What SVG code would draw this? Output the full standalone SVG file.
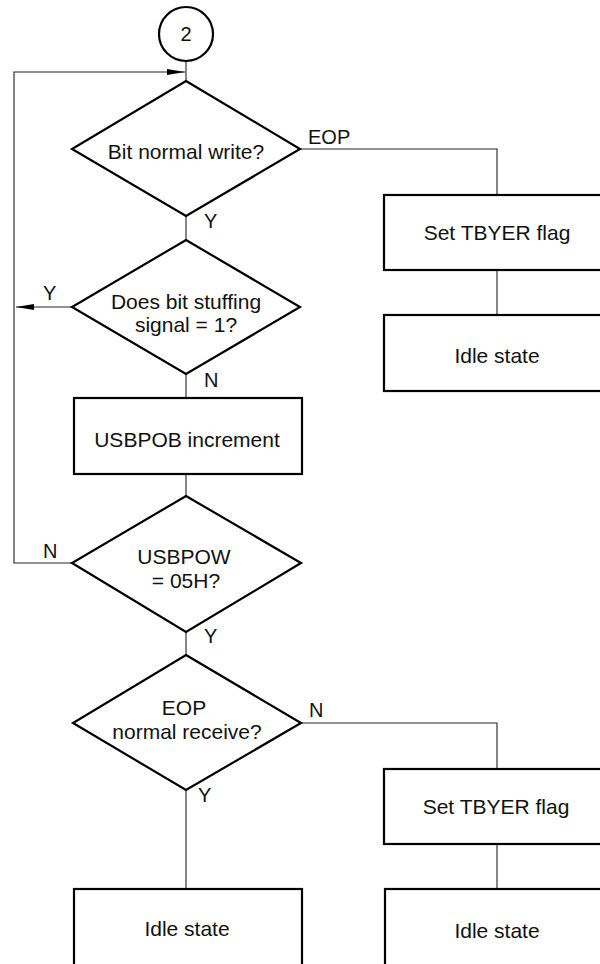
<svg xmlns="http://www.w3.org/2000/svg" width="600" height="964" viewBox="0 0 600 964">
<defs>
<style>
.shape{fill:#fff;stroke:#000;stroke-width:2.2}
.conn{fill:none;stroke:#222;stroke-width:1.1}
.t{font-family:"Liberation Sans",Arial,sans-serif;font-size:21px;fill:#111;text-anchor:middle}
.lbl{font-family:"Liberation Sans",Arial,sans-serif;font-size:20px;fill:#111}
</style>
<marker id="arr" viewBox="0 0 18 6" refX="18" refY="3" markerWidth="18" markerHeight="6" markerUnits="userSpaceOnUse" orient="auto">
<path d="M0,0 L18,3 L0,6 Z" fill="#000"/>
</marker>
</defs>
<rect width="600" height="964" fill="#fff"/>
<g id="connectors">
<line class="conn" x1="186" y1="61" x2="186" y2="81"/>
<polyline class="conn" points="72,563 14,563 14,72 185,72" marker-end="url(#arr)"/>
<polyline class="conn" points="300,149 497,149 497,195"/>
<line class="conn" x1="497" y1="270" x2="497" y2="315"/>
<line class="conn" x1="186" y1="216" x2="186" y2="240"/>
<line class="conn" x1="72" y1="307" x2="16" y2="307" marker-end="url(#arr)"/>
<line class="conn" x1="186" y1="374" x2="186" y2="398"/>
<line class="conn" x1="186" y1="474" x2="186" y2="496"/>
<line class="conn" x1="186" y1="632" x2="186" y2="655"/>
<polyline class="conn" points="301,723 497,723 497,769"/>
<line class="conn" x1="497" y1="844" x2="497" y2="889"/>
<line class="conn" x1="186" y1="790" x2="186" y2="889"/>
</g>
<g id="start">
<circle class="shape" cx="186" cy="34" r="27"/>
<text class="t" x="186" y="41" style="font-size:20px">2</text>
</g>
<g id="d1">
<polygon class="shape" points="186,81 300,149 186,216 72,149"/>
<text class="t" x="186" y="159">Bit normal write?</text>
<text class="lbl" x="308" y="144">EOP</text>
<text class="lbl" x="204" y="228">Y</text>
</g>
<g id="b1">
<rect class="shape" x="384" y="195" width="228" height="75"/>
<text class="t" x="497" y="240">Set TBYER flag</text>
</g>
<g id="b2">
<rect class="shape" x="384" y="315" width="228" height="76"/>
<text class="t" x="497" y="363">Idle state</text>
</g>
<g id="d2">
<polygon class="shape" points="186,240 300,307 186,374 72,307"/>
<text class="t" x="186" y="309">Does bit stuffing</text>
<text class="t" x="186" y="332">signal = 1?</text>
<text class="lbl" x="43" y="300">Y</text>
<text class="lbl" x="204" y="387">N</text>
</g>
<g id="b3">
<rect class="shape" x="74" y="398" width="228" height="76"/>
<text class="t" x="187" y="447">USBPOB increment</text>
</g>
<g id="d3">
<polygon class="shape" points="186,496 301,563 186,632 72,563"/>
<text class="t" x="184" y="564">USBPOW</text>
<text class="t" x="186" y="588">= 05H?</text>
<text class="lbl" x="43" y="558">N</text>
<text class="lbl" x="204" y="643">Y</text>
</g>
<g id="d4">
<polygon class="shape" points="186,655 301,723 186,790 73,723"/>
<text class="t" x="184" y="715">EOP</text>
<text class="t" x="187" y="739">normal receive?</text>
<text class="lbl" x="309" y="717">N</text>
<text class="lbl" x="198" y="802">Y</text>
</g>
<g id="b4">
<rect class="shape" x="384" y="769" width="228" height="75"/>
<text class="t" x="496" y="814">Set TBYER flag</text>
</g>
<g id="b5">
<rect class="shape" x="74" y="889" width="228" height="80"/>
<text class="t" x="187" y="936">Idle state</text>
</g>
<g id="b6">
<rect class="shape" x="385" y="889" width="228" height="80"/>
<text class="t" x="497" y="938">Idle state</text>
</g>
</svg>
